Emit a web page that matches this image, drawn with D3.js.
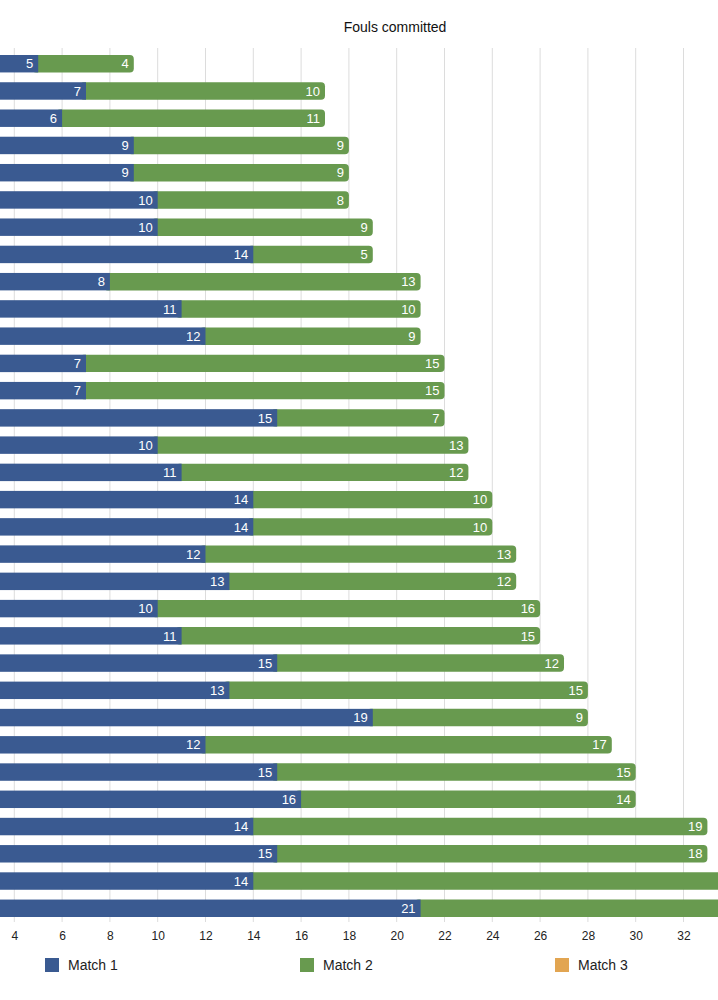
<!DOCTYPE html>
<html>
<head>
<meta charset="utf-8">
<script src="https://cdn.jsdelivr.net/npm/d3@7"></script>
<style>
  body { margin: 0; background: #fff; }
  text { font-family: "Liberation Sans", Arial, sans-serif; }
</style>
</head>
<body>
<div id="chart"></div>
<script>
// data, one row per team (names are cropped out of the picture)
const rows = d3.range(1, 33).map(i => "Team " + i);
const match1 = [5, 7, 6, 9, 9, 10, 10, 14, 8, 11, 12, 7, 7, 15, 10, 11, 14, 14, 12, 13, 10, 11, 15, 13, 19, 12, 15, 16, 14, 15, 14, 21];
const match2 = [4, 10, 11, 9, 9, 8, 9, 5, 13, 10, 9, 15, 15, 7, 13, 12, 10, 10, 13, 12, 16, 15, 12, 15, 9, 17, 15, 14, 19, 18, 21, 15];
const match3 = [0, 0, 0, 0, 0, 0, 0, 0, 0, 0, 0, 0, 0, 0, 0, 0, 0, 0, 0, 0, 0, 0, 0, 0, 0, 0, 0, 0, 0, 0, 0, 0];
const seriesNames = ["Match 1", "Match 2", "Match 3"];
const xTicks = [4, 6, 8, 10, 12, 14, 16, 18, 20, 22, 24, 26, 28, 30, 32];

const width = 718, height = 1000;

const data = rows.map((r, i) => ({ team: r, "Match 1": match1[i], "Match 2": match2[i], "Match 3": match3[i] }));

const svg = d3.select("#chart")
    .append("svg")
    .attr("width", width)
    .attr("height", height);

// the chart is cropped on the left: value 0 sits off-screen
const x = d3.scaleLinear()
    .domain([0, 34])
    .range([-81.3, -81.3 + 34 * 23.9]);

const y = d3.scaleBand()
    .domain(rows)
    .range([55, 917])
    .paddingInner(0.36)
    .paddingOuter(0);

const color = d3.scaleOrdinal()
    .domain(seriesNames)
    .range(["#3a5a91", "#689a4f", "#e2a551"]);

// title
svg.append("text")
    .attr("x", 395)
    .attr("y", 32)
    .attr("text-anchor", "middle")
    .style("font-size", "14px")
    .style("fill", "#111")
    .text("Fouls committed");

// gridlines
svg.append("g")
    .selectAll("line")
    .data(xTicks)
    .join("line")
    .attr("x1", d => x(d))
    .attr("x2", d => x(d))
    .attr("y1", 48)
    .attr("y2", 922)
    .attr("stroke", "#dcdcdc")
    .attr("stroke-width", 1);

// x axis
const xAxis = svg.append("g")
    .attr("transform", "translate(0, 922)")
    .call(d3.axisBottom(x).tickValues(xTicks).tickSize(0).tickPadding(9));
xAxis.select(".domain").remove();
xAxis.selectAll("text")
    .style("font-size", "12px")
    .style("fill", "#222")
    .style("font-family", "\"Liberation Sans\", Arial, sans-serif");

// stacked bars
const stack = d3.stack().keys(seriesNames)(data);

const groups = svg.append("g")
    .selectAll("g")
    .data(stack)
    .join("g")
    .attr("fill", d => color(d.key));

// later segments get a rounded right end, the first segment is drawn square on top
groups.filter(d => d.key !== "Match 1")
    .selectAll("rect")
    .data(d => d.filter(s => s[1] > s[0]))
    .join("rect")
    .attr("x", s => x(s[0]) - 6)
    .attr("y", s => y(s.data.team))
    .attr("width", s => x(s[1]) - x(s[0]) + 6)
    .attr("height", y.bandwidth())
    .attr("rx", 4);

groups.filter(d => d.key === "Match 1")
    .raise()
    .selectAll("rect")
    .data(d => d)
    .join("rect")
    .attr("x", s => x(s[0]))
    .attr("y", s => y(s.data.team))
    .attr("width", s => x(s[1]) - x(s[0]))
    .attr("height", y.bandwidth());

// value labels (only those whose segment end is inside the visible area, as in the crop)
const labels = svg.append("g");
stack.forEach(layer => {
    labels.selectAll(null)
        .data(layer.filter(s => s[1] > s[0] && x(s[1]) <= width))
        .join("text")
        .attr("x", s => x(s[1]) - 5)
        .attr("y", s => y(s.data.team) + y.bandwidth() / 2)
        .attr("dy", "0.36em")
        .attr("text-anchor", "end")
        .style("font-size", "13px")
        .style("fill", "#fff")
        .text(s => s[1] - s[0]);
});

// legend
const legendX = [45, 300, 555];
const legend = svg.append("g")
    .selectAll("g")
    .data(seriesNames)
    .join("g")
    .attr("transform", (d, i) => `translate(${legendX[i]}, 958)`);
legend.append("rect")
    .attr("width", 14)
    .attr("height", 14)
    .attr("fill", d => color(d));
legend.append("text")
    .attr("x", 23)
    .attr("y", 7)
    .attr("dy", "0.36em")
    .style("font-size", "14px")
    .style("fill", "#222")
    .text(d => d);
</script>
</body>
</html>
